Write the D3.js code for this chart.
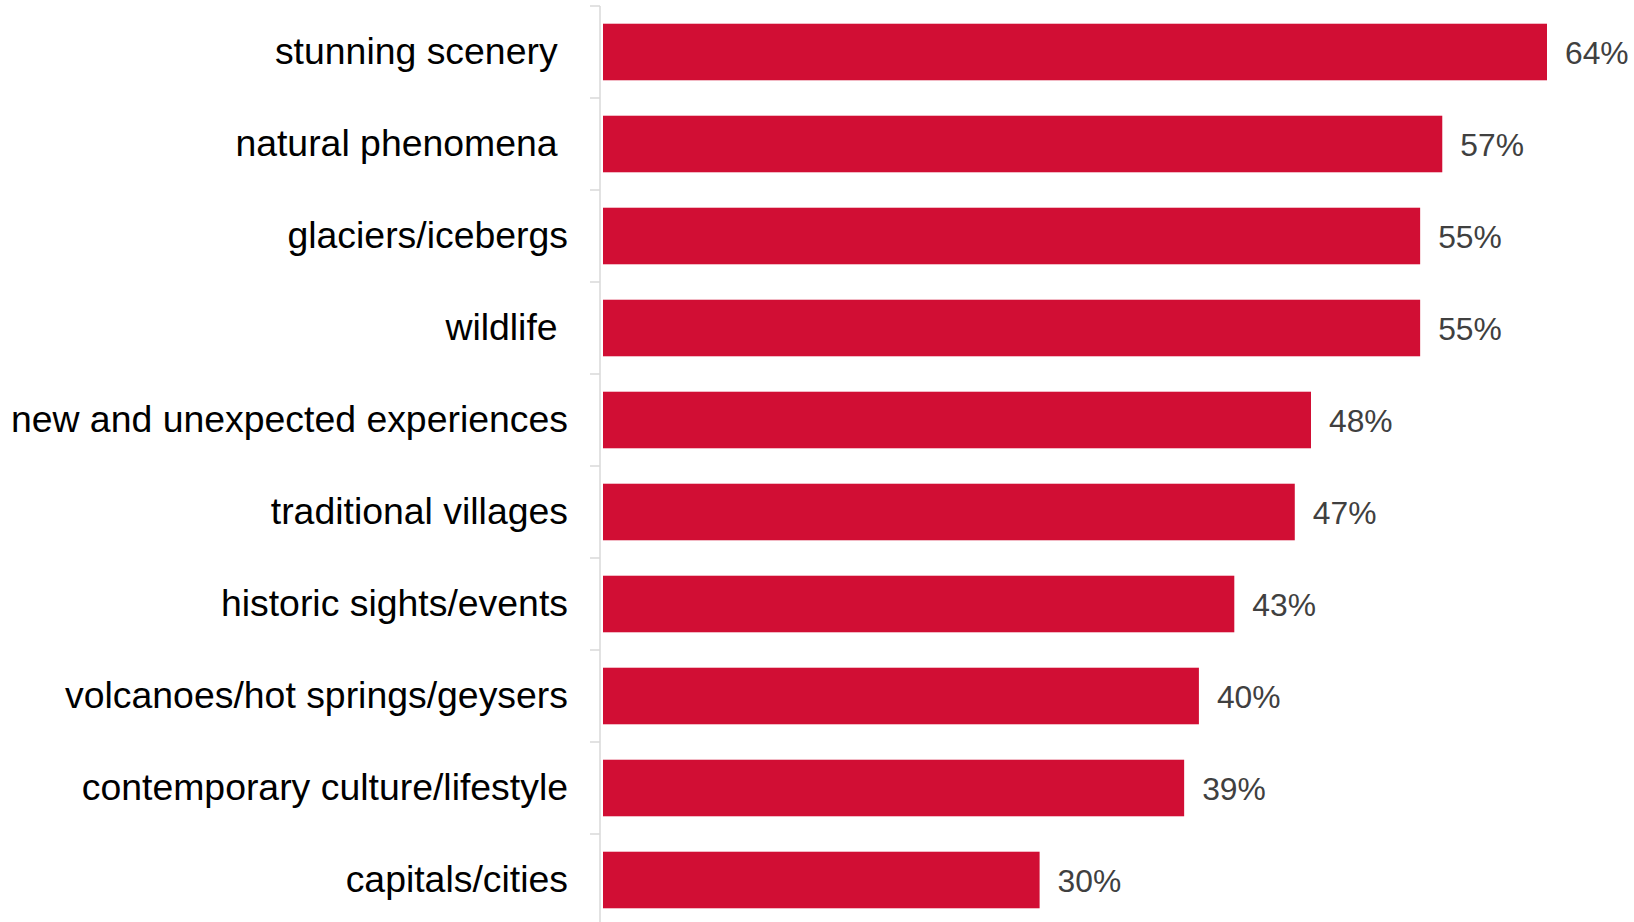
<!DOCTYPE html>
<html>
<head>
<meta charset="utf-8">
<script src="https://cdn.jsdelivr.net/npm/d3@7"></script>
<style>
  body { margin: 0; background: #fff; }
  svg { display: block; }
  .cat-label { white-space: pre; }
</style>
</head>
<body>
<svg id="chart"></svg>
<script>
// Chart data (bar lengths, labels rounded)
const categories = [
  "stunning scenery ",
  "natural phenomena ",
  "glaciers/icebergs",
  "wildlife ",
  "new and unexpected experiences",
  "traditional villages",
  "historic sights/events",
  "volcanoes/hot springs/geysers",
  "contemporary culture/lifestyle",
  "capitals/cities"
];
const values = [64.0, 56.9, 55.4, 55.4, 48.0, 46.9, 42.8, 40.4, 39.4, 29.6];

const width = 1634;
const height = 922;
const axisX = 600;
const barLeft = 603;
const pct = d3.format(".0f");

const svg = d3.select("#chart")
  .attr("width", width)
  .attr("height", height);

const y = d3.scaleBand()
  .domain(categories)
  .range([6, 926])
  .paddingInner(0.385)
  .paddingOuter(0.1925);

const x = d3.scaleLinear()
  .domain([0, 64])
  .range([barLeft, 1547]);

// Ticks between categories
const tickYs = categories.map((c) => y(c) - y.step() * y.paddingInner() / 2);

svg.selectAll("line.tick")
  .data(tickYs)
  .enter()
  .append("line")
  .attr("class", "tick")
  .attr("x1", axisX - 10)
  .attr("x2", axisX)
  .attr("y1", (d) => d)
  .attr("y2", (d) => d)
  .attr("stroke", "#d9d9d9")
  .attr("stroke-width", 1.5);

// Axis line
svg.append("line")
  .attr("x1", axisX)
  .attr("x2", axisX)
  .attr("y1", tickYs[0])
  .attr("y2", height)
  .attr("stroke", "#d9d9d9")
  .attr("stroke-width", 1.5);

// Bars
svg.selectAll("rect.bar")
  .data(values)
  .enter()
  .append("rect")
  .attr("class", "bar")
  .attr("x", x(0))
  .attr("y", (d, i) => y(categories[i]))
  .attr("width", (d) => x(d) - x(0))
  .attr("height", y.bandwidth())
  .attr("fill", "#d10e34");

// Category labels
svg.selectAll("text.cat-label")
  .data(categories)
  .enter()
  .append("text")
  .attr("class", "cat-label")
  .attr("x", 568)
  .attr("y", (d) => y(d) + y.bandwidth() / 2)
  .attr("dy", "0.33em")
  .attr("text-anchor", "end")
  .attr("fill", "#000")
  .style("font-family", "Liberation Sans, Arial, sans-serif")
  .style("font-size", "37.4px")
  .text((d) => d);

// Value labels
svg.selectAll("text.val-label")
  .data(values)
  .enter()
  .append("text")
  .attr("class", "val-label")
  .attr("x", (d) => x(d) + 18)
  .attr("y", (d, i) => y(categories[i]) + y.bandwidth() / 2)
  .attr("dy", "0.38em")
  .attr("fill", "#404040")
  .style("font-family", "Liberation Sans, Arial, sans-serif")
  .style("font-size", "31.8px")
  .text((d) => pct(d) + "%");
</script>
</body>
</html>
